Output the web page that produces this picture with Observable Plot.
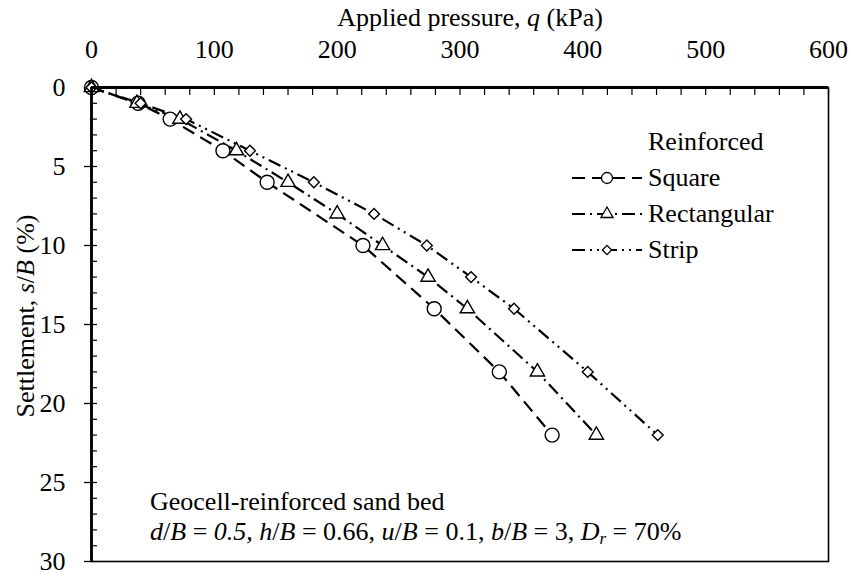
<!DOCTYPE html>
<html>
<head>
<meta charset="utf-8">
<script src="https://cdn.jsdelivr.net/npm/d3@7"></script>
<script src="https://cdn.jsdelivr.net/npm/@observablehq/plot@0.6"></script>
<style>
  html, body { margin: 0; padding: 0; background: #fff; }
  #wrap { position: relative; width: 851px; height: 577px; font-family: "Liberation Serif", Tinos, "Times New Roman", serif; color: #000; }
  .lbl { position: absolute; white-space: nowrap; font-size: 26px; line-height: 1; font-family: "Liberation Serif", Tinos, "Times New Roman", serif; }
  #legend { position: absolute; left: 0; top: 0; }
  svg text { font-family: "Liberation Serif", Tinos, "Times New Roman", serif; }
</style>
</head>
<body>
<div id="wrap"></div>
<script>
// ---- data ----
const squareS = [0, 1, 2, 4, 6, 10, 14, 18, 22];
const squareQ = [0, 38, 64, 107, 143, 221, 279, 332, 375];
const rectS   = [0, 1, 2, 4, 6, 8, 10, 12, 14, 18, 22];
const rectQ   = [0, 37, 72, 118, 160, 200, 237, 274, 306, 363, 411];
const stripS  = [0, 1, 2, 4, 6, 8, 10, 12, 14, 18, 22];
const stripQ  = [0, 40, 77, 129, 181, 230, 273, 309, 344, 404, 461];
const xTicks = [0, 100, 200, 300, 400, 500, 600];
const yTicks = [0, 5, 10, 15, 20, 25, 30];
const seriesNames = ["Square", "Rectangular", "Strip"];

const styles = {
  Square:      {symbol: "circle",   r: 7, dash: "13,7"},
  Rectangular: {symbol: "triangle", r: 5.3, dash: "13,5,2,5"},
  Strip:       {symbol: "diamond2", r: 4.9, dash: "13,5,2,5,2,5"}
};
const toRows = (name, qs, ss) => qs.map((q, i) => ({series: name, q, s: ss[i]}));
const series = {
  Square: toRows("Square", squareQ, squareS),
  Rectangular: toRows("Rectangular", rectQ, rectS),
  Strip: toRows("Strip", stripQ, stripS)
};

const W = 851, H = 577;
const mL = 91, mR = 23, mT = 87, mB = 16;
const FONT = '"Liberation Serif", Tinos, "Times New Roman", serif';

const marks = [];
for (const name of seriesNames) {
  const st = styles[name];
  marks.push(Plot.line(series[name], {x: "q", y: "s", stroke: "black", strokeWidth: 2.2, strokeDasharray: st.dash, strokeLinecap: "butt"}));
}
for (const name of seriesNames) {
  const st = styles[name];
  marks.push(Plot.dot(series[name], {x: "q", y: "s", symbol: () => st.symbol, r: st.r, fill: "white", stroke: "black", strokeWidth: 1.4}));
}

const chart = Plot.plot({
  width: W, height: H,
  marginLeft: mL, marginRight: mR, marginTop: mT, marginBottom: mB,
  style: {fontFamily: FONT, fontSize: "26px", background: "white", color: "black", overflow: "visible"},
  x: {domain: [0, 600], label: null},
  y: {domain: [0, 30], reverse: true, label: null},
  symbol: {type: "identity"},
  marks: [
    Plot.frame({stroke: "black", strokeWidth: 1.6}),
    // minor inward ticks
    Plot.axisX(d3.range(0, 601, 20), {anchor: "top", tickSize: -7, fill: "none", stroke: "black", strokeWidth: 1.2, label: null}),
    Plot.axisY(d3.range(0, 31, 1), {anchor: "left", tickSize: -6, fill: "none", stroke: "black", strokeWidth: 1.2, label: null}),
    // major labels
    Plot.axisX(xTicks, {anchor: "top", tickSize: 0, tickPadding: 30, fontSize: 26, fontFamily: FONT, label: null}),
    Plot.axisY(yTicks, {anchor: "left", tickSize: 7, tickPadding: 19, fontSize: 26, fontFamily: FONT, stroke: "black", strokeWidth: 1.3, label: null}),
    ...marks,
    Plot.ruleY([0], {stroke: "black", strokeWidth: 2.8}),
    Plot.ruleX([0], {stroke: "black", strokeWidth: 2.8})
  ]
});

const wrap = document.getElementById("wrap");
wrap.appendChild(chart);

function addLabel(html, left, top, extra) {
  const d = document.createElement("div");
  d.className = "lbl";
  d.innerHTML = html;
  d.style.left = left + "px";
  d.style.top = top + "px";
  if (extra) Object.assign(d.style, extra);
  wrap.appendChild(d);
  return d;
}

// axis titles
addLabel('Applied pressure, <i>q</i> (kPa)', 470, 5, {transform: "translateX(-50%)"});
addLabel('Settlement, <i>s</i>/<i>B</i> (%)', 26, 316, {transform: "translate(-50%,-50%) rotate(-90deg)"});

// annotation
addLabel('Geocell-reinforced sand bed', 150, 489);
addLabel('<i>d</i>/<i>B</i> = <i>0.5, h</i>/<i>B</i> = 0.66, <i>u</i>/<i>B</i> = 0.1, <i>b</i>/<i>B</i> = 3, <i>D<sub style="font-size:17px;vertical-align:-4px">r</sub></i> = 70%', 150, 519);

// legend
const leg = d3.select(wrap).append("svg").attr("id", "legend").attr("width", W).attr("height", H);
addLabel('Reinforced', 648, 129);
const rowsY = [178, 214, 250];
const symMap = {circle: d3.symbolCircle, triangle: d3.symbolTriangle, diamond2: d3.symbolDiamond2};
seriesNames.forEach((name, i) => {
  const st = styles[name];
  const y = rowsY[i];
  leg.append("line").attr("x1", 572).attr("x2", 642).attr("y1", y).attr("y2", y)
    .attr("stroke", "black").attr("stroke-width", 2.2).attr("stroke-dasharray", st.dash);
  const rr = name === "Square" ? 5.5 : st.r * 0.85;
  leg.append("path").attr("d", d3.symbol(symMap[st.symbol], Math.PI * rr * rr)())
    .attr("transform", `translate(607,${y})`).attr("fill", "white").attr("stroke", "black").attr("stroke-width", 1.3);
  addLabel(name, 648, y - 13);
});
</script>
</body>
</html>
